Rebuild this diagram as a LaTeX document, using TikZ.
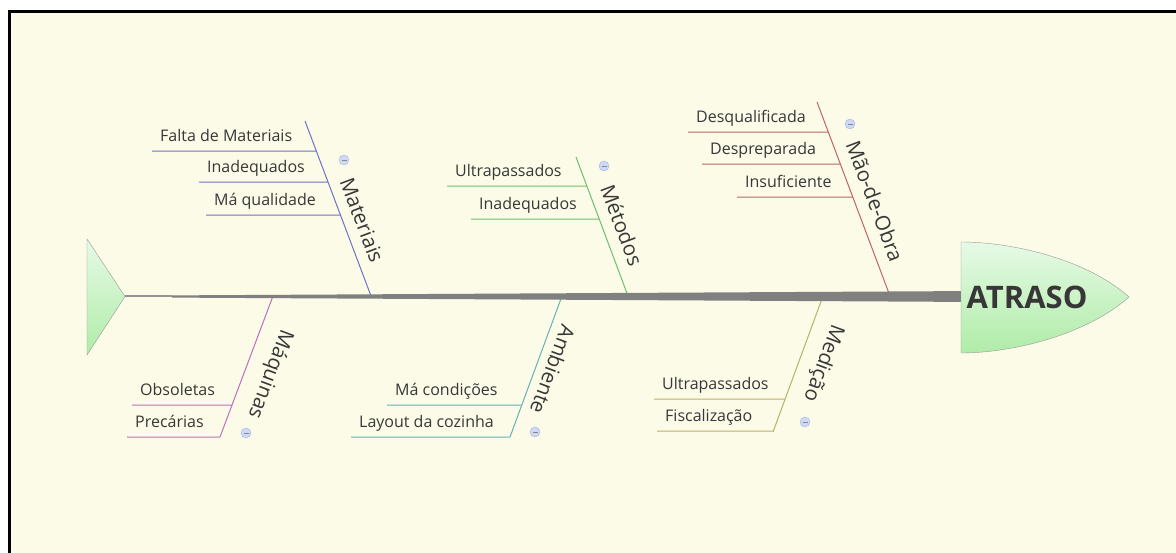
\documentclass[tikz,border=0pt]{standalone}
\usepackage{fontspec}
\setmainfont{Open Sans}
\usetikzlibrary{calc,positioning}
\definecolor{cream}{RGB}{252,251,232}
\definecolor{txt}{RGB}{55,55,55}
\definecolor{matc}{RGB}{112,112,200}
\definecolor{metc}{RGB}{110,190,110}
\definecolor{maoc}{RGB}{190,100,100}
\definecolor{maqc}{RGB}{190,110,190}
\definecolor{ambc}{RGB}{100,180,180}
\definecolor{medc}{RGB}{180,180,100}
\definecolor{minusfill}{RGB}{205,217,245}
\definecolor{minusdraw}{RGB}{160,182,232}
\definecolor{greentop}{RGB}{230,250,230}
\definecolor{greenbot}{RGB}{176,236,168}
\definecolor{spine}{RGB}{128,128,128}

\begin{document}
\begin{tikzpicture}[x=1pt,y=1pt,
    item/.style={inner xsep=8pt,inner ysep=0pt,text depth=9.5pt,anchor=base west,
      font=\fontsize{16}{19}\selectfont,text=txt},
    bone/.style={inner sep=0pt,font=\fontsize{20.5}{24}\selectfont,text=txt},
    fold/.style={circle,draw=minusdraw,fill=minusfill,minimum size=10pt,inner sep=0pt,
      path picture={\draw[txt!60,line width=0.8pt]
        ([xshift=-2.5pt]path picture bounding box.center) -- ([xshift=2.5pt]path picture bounding box.center);}},
    mat/.style={draw=matc,line width=1pt},
    met/.style={draw=metc,line width=1pt},
    mao/.style={draw=maoc,line width=1pt},
    maq/.style={draw=maqc,line width=1pt},
    amb/.style={draw=ambc,line width=1pt},
    med/.style={draw=medc,line width=1pt}]
  \useasboundingbox (0,0) rectangle (1176,-553);
  \fill[cream] (11,-13) rectangle (1176,-553);
  \draw[line width=3pt] (9.5,-553) -- (9.5,-11.5) -- (1176,-11.5);

  \foreach \b/\xt/\yt/\xb/\yb in {mat/305/121/371/296, met/576/157/628/296, mao/817/102/890/296,
      maq/273/296/220/437, amb/562/296/510/437, med/823/296/773/432} {
    \coordinate (\b-t) at (\xt,-\yt);
    \coordinate (\b-b) at (\xb,-\yb);
    \draw[\b] (\b-t) -- (\b-b);
  }

  \foreach \b/\n/\x/\y/\t in {
      mat/1/152/151/Falta de Materiais, mat/2/199/182/Inadequados, mat/3/206/215/Má qualidade,
      met/1/447/186/Ultrapassados, met/2/471/219/Inadequados,
      mao/1/688/132/Desqualificada, mao/2/702/164/Despreparada, mao/3/737/197/Insuficiente,
      maq/1/132/405/Obsoletas, maq/2/127/437/Precárias,
      amb/1/387/405/Má condições, amb/2/351/437/Layout da cozinha,
      med/1/654/399/Ultrapassados, med/2/657/431/Fiscalização} {
    \node[item] (\b\n) at (\x,{9.5-\y}) {\t};
    \draw[\b] (\b\n.south west) -- (intersection of \b-t--\b-b and \b\n.south west--\b\n.south east);
  }

  \node[bone,rotate=-69.3] (lmat) at (362,-220) {Materiais};
  \node[bone,rotate=-69.5] (lmet) at (622,-225) {Métodos};
  \node[bone,rotate=-69.4] (lmao) at (875,-201) {Mão-de-Obra};
  \node[bone,rotate=-110.6] (lmaq) at (270,-374) {Máquinas};
  \node[bone,rotate=-110.3] (lamb) at (553,-370) {Ambiente};
  \node[bone,rotate=-110.2] (lmed) at (823,-363) {Medição};

  \foreach \b/\x/\y in {mat/344/160, met/604/166, mao/850/124, maq/246/433, amb/535/432, med/805/422}
    \node[fold] (f\b) at (\x,-\y) {};

  \coordinate (tail) at (125,-296.5);
  \coordinate (head) at (961,-296.5);
  \coordinate (step) at (172,-296.5);
  \draw[black!42,line width=2pt] (tail) -- (step);
  \fill[spine] ($(step)+(0,1.1)$) -- ($(head)+(0,5.4)$) -- ($(head)+(0,-5.4)$) -- ($(step)+(0,-1.1)$) -- cycle;
  \draw[black!40,top color=greentop,bottom color=greenbot] (87,-239) -- (tail) -- (87,-355) -- cycle;
  \draw[black!40,top color=greentop,bottom color=greenbot] (961,-242) .. controls (1010,-242) and (1085,-258)
    .. (1129,-297) .. controls (1085,-336) and (1010,-353) .. (961,-353) -- cycle;
  \node[inner sep=0pt,font=\bfseries\fontsize{31}{36}\selectfont,text=txt] (atraso) at (1027,-297) {ATRASO};
\end{tikzpicture}
\end{document}
